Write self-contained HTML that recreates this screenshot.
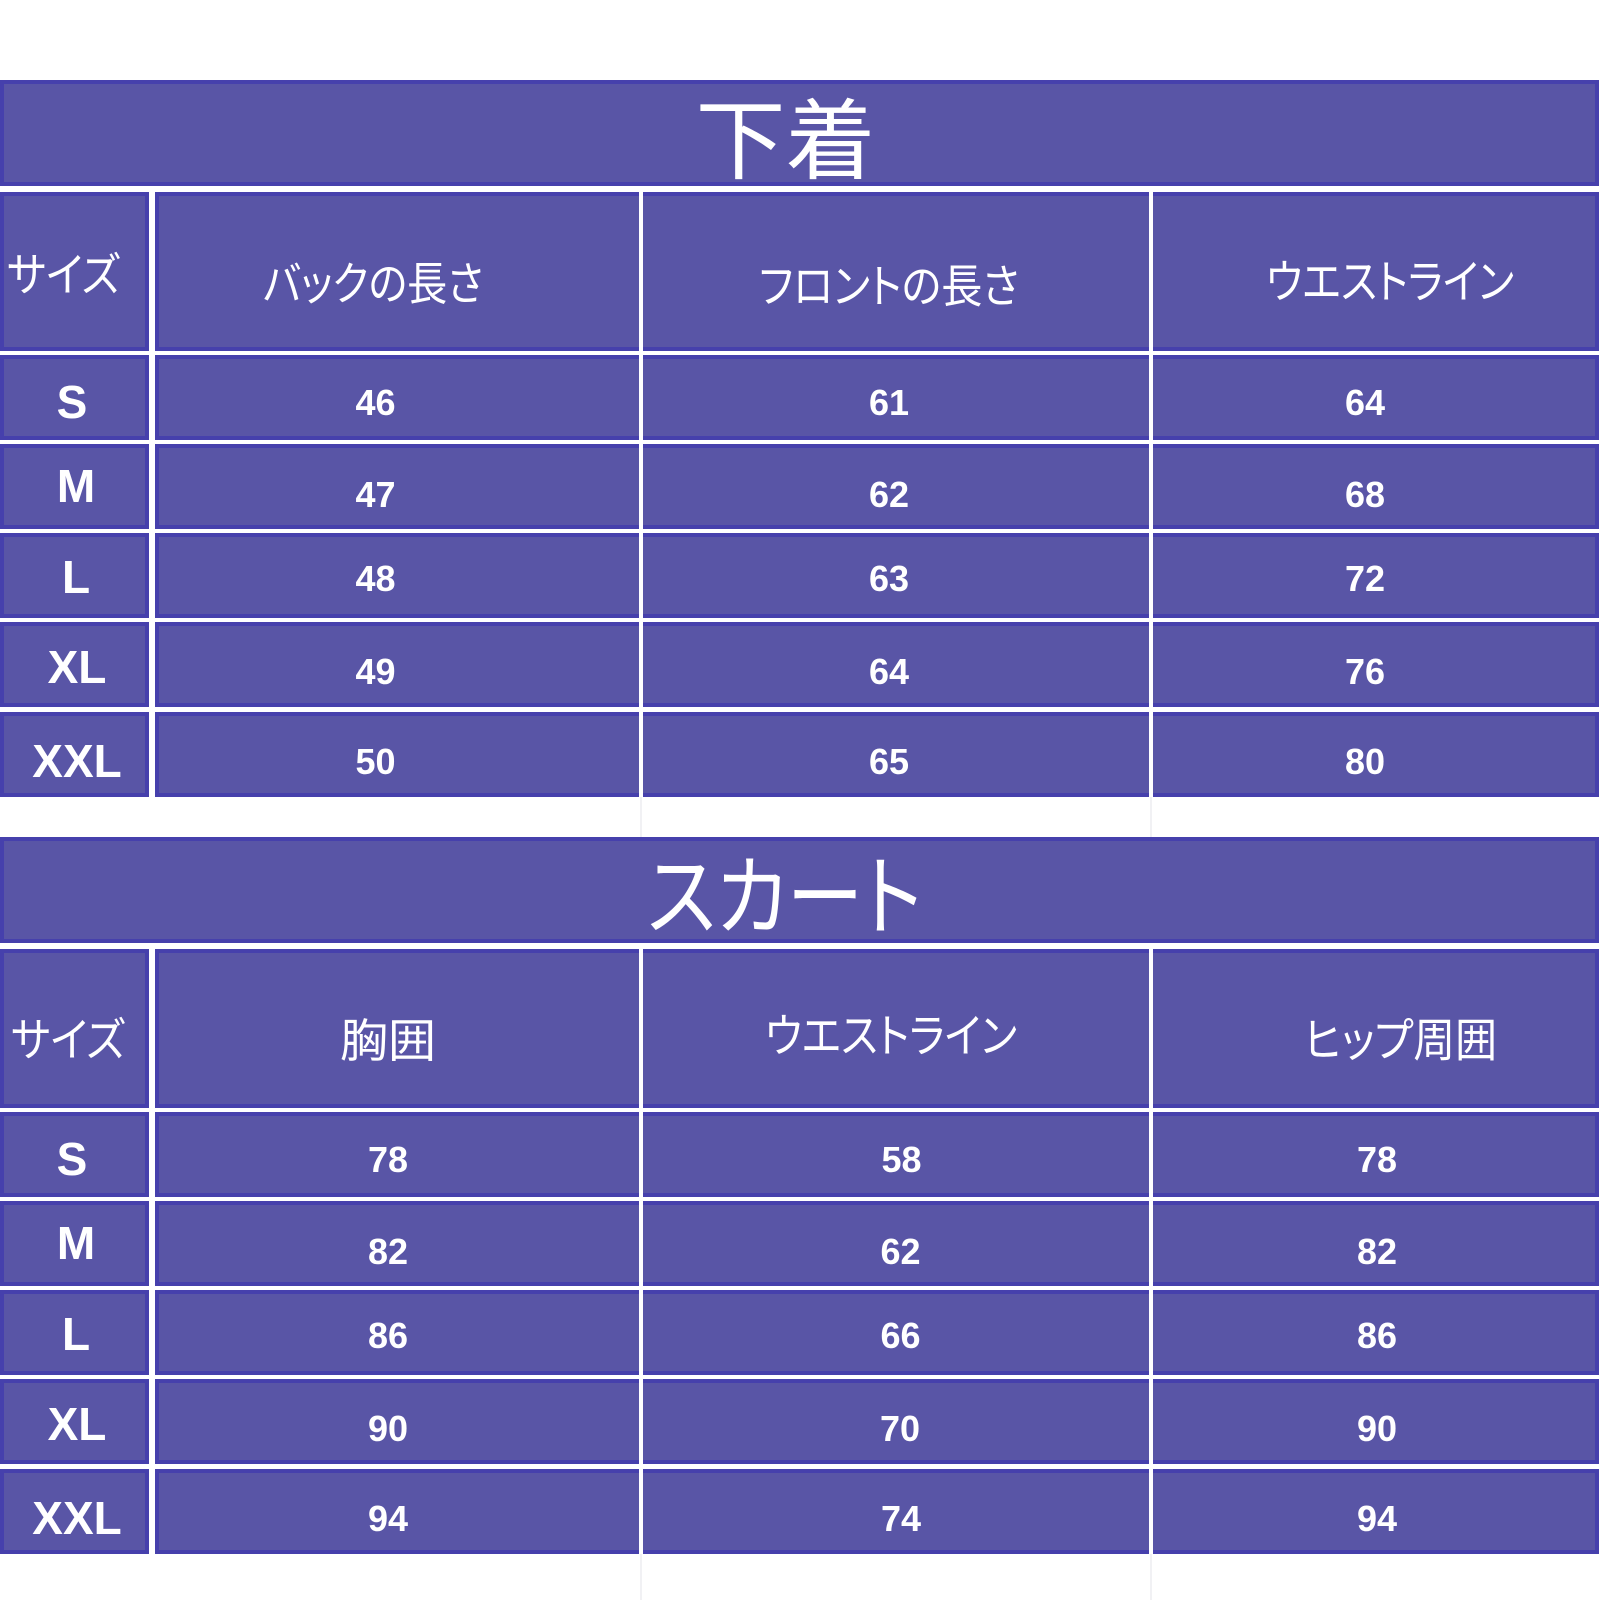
<!DOCTYPE html>
<html><head><meta charset="utf-8">
<style>
html,body{margin:0;padding:0;background:#fff;}
svg{display:block;}
.b{fill:#5955a6;stroke:#4640ac;stroke-width:4;}
.jp{font-family:"Liberation Sans","Noto Sans CJK JP",sans-serif;fill:#fff;font-feature-settings:"palt";}
.n{font-family:"Liberation Sans",Arial,sans-serif;font-weight:bold;fill:#fff;font-size:36px;}
.l{font-family:"Liberation Sans",Arial,sans-serif;font-weight:bold;fill:#fff;font-size:46px;}
</style></head>
<body>
<svg width="1600" height="1600" viewBox="0 0 1600 1600" xmlns="http://www.w3.org/2000/svg">
<rect x="0" y="0" width="1600" height="1600" fill="#fff"/>

<!-- ===== Table 1 ===== -->
<rect class="b" x="2" y="82" width="1595" height="102"/>
<rect class="b" x="2" y="194" width="145" height="155"/>
<rect class="b" x="157" y="194" width="1440" height="155"/>

<rect class="b" x="2" y="357" width="145" height="81"/><rect class="b" x="157" y="357" width="1440" height="81"/>
<rect class="b" x="2" y="446" width="145" height="81"/><rect class="b" x="157" y="446" width="1440" height="81"/>
<rect class="b" x="2" y="535" width="145" height="81"/><rect class="b" x="157" y="535" width="1440" height="81"/>
<rect class="b" x="2" y="624" width="145" height="81"/><rect class="b" x="157" y="624" width="1440" height="81"/>
<rect class="b" x="2" y="714" width="145" height="81"/><rect class="b" x="157" y="714" width="1440" height="81"/>

<rect x="639" y="192" width="4" height="605" fill="#fff"/>
<rect x="1149" y="192" width="4" height="605" fill="#fff"/>
<rect x="640" y="797" width="2" height="40" fill="#f1f1f4"/>
<rect x="1150" y="797" width="2" height="40" fill="#f1f1f4"/>

<text class="jp" x="785.5" y="172" font-size="88" text-anchor="middle" textLength="180" lengthAdjust="spacingAndGlyphs">下着</text>

<text class="jp" x="63.5" y="291" font-size="46" text-anchor="middle" textLength="113" lengthAdjust="spacingAndGlyphs">サイズ</text>
<text class="jp" x="373" y="300" font-size="46" text-anchor="middle" textLength="220" lengthAdjust="spacingAndGlyphs">バックの長さ</text>
<text class="jp" x="889" y="302.5" font-size="46" text-anchor="middle" textLength="260" lengthAdjust="spacingAndGlyphs">フロントの長さ</text>
<text class="jp" x="1390" y="298" font-size="46" text-anchor="middle" textLength="248" lengthAdjust="spacingAndGlyphs">ウエストライン</text>

<text class="l" x="72" y="418" text-anchor="middle">S</text>
<text class="l" x="76" y="502" text-anchor="middle">M</text>
<text class="l" x="76" y="593" text-anchor="middle">L</text>
<text class="l" x="77" y="683" text-anchor="middle">XL</text>
<text class="l" x="77" y="777" text-anchor="middle">XXL</text>

<text class="n" x="375.5" y="415" text-anchor="middle">46</text>
<text class="n" x="375.5" y="507" text-anchor="middle">47</text>
<text class="n" x="375.5" y="591" text-anchor="middle">48</text>
<text class="n" x="375.5" y="684" text-anchor="middle">49</text>
<text class="n" x="375.5" y="774" text-anchor="middle">50</text>

<text class="n" x="889" y="415" text-anchor="middle">61</text>
<text class="n" x="889" y="507" text-anchor="middle">62</text>
<text class="n" x="889" y="591" text-anchor="middle">63</text>
<text class="n" x="889" y="684" text-anchor="middle">64</text>
<text class="n" x="889" y="774" text-anchor="middle">65</text>

<text class="n" x="1365" y="415" text-anchor="middle">64</text>
<text class="n" x="1365" y="507" text-anchor="middle">68</text>
<text class="n" x="1365" y="591" text-anchor="middle">72</text>
<text class="n" x="1365" y="684" text-anchor="middle">76</text>
<text class="n" x="1365" y="774" text-anchor="middle">80</text>

<!-- ===== Table 2 ===== -->
<rect class="b" x="2" y="839" width="1595" height="102"/>
<rect class="b" x="2" y="951" width="145" height="155"/>
<rect class="b" x="157" y="951" width="1440" height="155"/>

<rect class="b" x="2" y="1114" width="145" height="81"/><rect class="b" x="157" y="1114" width="1440" height="81"/>
<rect class="b" x="2" y="1203" width="145" height="81"/><rect class="b" x="157" y="1203" width="1440" height="81"/>
<rect class="b" x="2" y="1292" width="145" height="81"/><rect class="b" x="157" y="1292" width="1440" height="81"/>
<rect class="b" x="2" y="1381" width="145" height="81"/><rect class="b" x="157" y="1381" width="1440" height="81"/>
<rect class="b" x="2" y="1471" width="145" height="81"/><rect class="b" x="157" y="1471" width="1440" height="81"/>

<rect x="639" y="949" width="4" height="605" fill="#fff"/>
<rect x="1149" y="949" width="4" height="605" fill="#fff"/>
<rect x="640" y="1554" width="2" height="46" fill="#f1f1f4"/>
<rect x="1150" y="1554" width="2" height="46" fill="#f1f1f4"/>

<text class="jp" x="784.5" y="928" font-size="88" text-anchor="middle" textLength="275" lengthAdjust="spacingAndGlyphs">スカート</text>

<text class="jp" x="68" y="1056" font-size="46" text-anchor="middle" textLength="114" lengthAdjust="spacingAndGlyphs">サイズ</text>
<text class="jp" x="388" y="1057" font-size="46" text-anchor="middle" textLength="96" lengthAdjust="spacingAndGlyphs">胸囲</text>
<text class="jp" x="891" y="1052" font-size="46" text-anchor="middle" textLength="252" lengthAdjust="spacingAndGlyphs">ウエストライン</text>
<text class="jp" x="1400.5" y="1056.5" font-size="46" text-anchor="middle" textLength="193" lengthAdjust="spacingAndGlyphs">ヒップ周囲</text>

<text class="l" x="72" y="1175" text-anchor="middle">S</text>
<text class="l" x="76" y="1259" text-anchor="middle">M</text>
<text class="l" x="76" y="1350" text-anchor="middle">L</text>
<text class="l" x="77" y="1440" text-anchor="middle">XL</text>
<text class="l" x="77" y="1534" text-anchor="middle">XXL</text>

<text class="n" x="388" y="1172" text-anchor="middle">78</text>
<text class="n" x="388" y="1264" text-anchor="middle">82</text>
<text class="n" x="388" y="1348" text-anchor="middle">86</text>
<text class="n" x="388" y="1441" text-anchor="middle">90</text>
<text class="n" x="388" y="1531" text-anchor="middle">94</text>

<text class="n" x="901.5" y="1172" text-anchor="middle">58</text>
<text class="n" x="900.5" y="1264" text-anchor="middle">62</text>
<text class="n" x="900.5" y="1348" text-anchor="middle">66</text>
<text class="n" x="900" y="1441" text-anchor="middle">70</text>
<text class="n" x="901" y="1531" text-anchor="middle">74</text>

<text class="n" x="1377" y="1172" text-anchor="middle">78</text>
<text class="n" x="1377" y="1264" text-anchor="middle">82</text>
<text class="n" x="1377" y="1348" text-anchor="middle">86</text>
<text class="n" x="1377" y="1441" text-anchor="middle">90</text>
<text class="n" x="1377" y="1531" text-anchor="middle">94</text>
</svg>
</body></html>
